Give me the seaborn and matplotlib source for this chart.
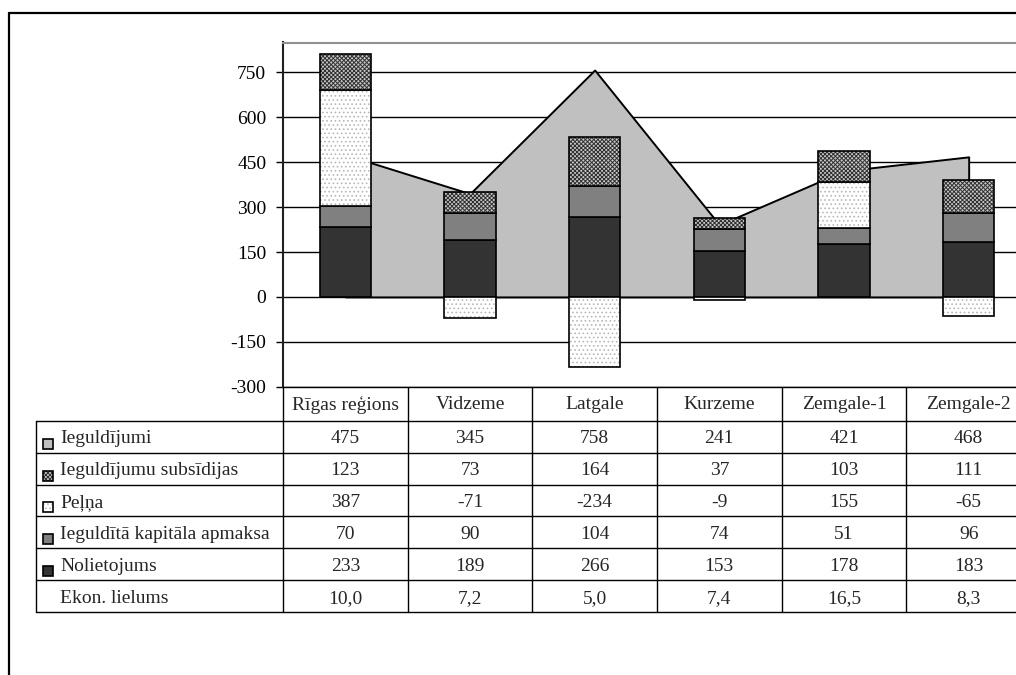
import matplotlib
matplotlib.use('Agg')
import numpy as np
import matplotlib.pyplot as plt
import matplotlib.transforms as mtransforms
from matplotlib.patches import Rectangle
from matplotlib.lines import Line2D
import seaborn as sns

regions = ['Rīgas reģions', 'Vidzeme', 'Latgale', 'Kurzeme', 'Zemgale-1', 'Zemgale-2']
ieguldijumi = [475, 345, 758, 241, 421, 468]
subsidijas = [123, 73, 164, 37, 103, 111]
pelna = [387, -71, -234, -9, 155, -65]
kapitals = [70, 90, 104, 74, 51, 96]
nolietojums = [233, 189, 266, 153, 178, 183]
ekon_lielums = ['10,0', '7,2', '5,0', '7,4', '16,5', '8,3']
yticks = [-300, -150, 0, 150, 300, 450, 600, 750]

sns.set_style('white')
plt.rcParams['font.family'] = ['Liberation Serif', 'DejaVu Serif']
plt.rcParams['axes.unicode_minus'] = False
plt.rcParams['hatch.linewidth'] = 0.7
FS = 14
SUB_HATCH = 'xxxxxxxx'

W, H = 1016, 675
fig = plt.figure(figsize=(W / 100, H / 100), dpi=100)
ax = fig.add_axes([283 / W, 1 - 386.7 / H, 748 / W, (386.7 - 42.5) / H])

x = np.arange(len(regions))
# area behind the bars
ax.fill_between(x, ieguldijumi, 0, facecolor='#c0c0c0', edgecolor='black', lw=1.4, zorder=1)

# stacking: positives on top of each other, negative profit below zero
nol = np.array(nolietojums)
kap = np.array(kapitals)
pel = np.array(pelna)
pel_bottom = np.where(pel >= 0, nol + kap, 0)
sub_bottom = nol + kap + np.clip(pel, 0, None)

BW = 0.41
common = dict(ax=ax, width=BW, saturation=1, errorbar=None, zorder=3)

sns.barplot(x=regions, y=nolietojums, color='#333333', edgecolor='black', linewidth=1.2, **common)
sns.barplot(x=regions, y=kapitals, bottom=nol, color='#808080', edgecolor='black', linewidth=1.2, **common)
# profit: white with light dots
sns.barplot(x=regions, y=pelna, bottom=pel_bottom, color='white', edgecolor='#b8b8b8',
            linewidth=0, hatch='....', **common)
sns.barplot(x=regions, y=pelna, bottom=pel_bottom, color='black', fill=False, linewidth=1.2, **common)
# subsidies: checker pattern
sns.barplot(x=regions, y=subsidijas, bottom=sub_bottom, color='#c8c8c8', edgecolor='#303030',
            linewidth=0, hatch=SUB_HATCH, **common)
sns.barplot(x=regions, y=subsidijas, bottom=sub_bottom, color='black', fill=False, linewidth=1.2, **common)

ax.set_xlim(-0.5, len(regions) - 0.5)
ax.set_ylim(-300, 850)
ax.set_yticks(yticks)
ax.set_xticks([])
ax.set_xlabel('')
ax.set_ylabel('')
ax.yaxis.grid(True, color='black', lw=1)
ax.xaxis.grid(False)
ax.set_axisbelow(True)
ax.tick_params(axis='y', direction='out', length=5, width=1, pad=7, labelsize=FS,
               left=True, color='black', labelcolor='black')
ax.spines['left'].set_color('#202020')
ax.spines['left'].set_linewidth(1.5)
ax.spines['top'].set_color('#909090')
ax.spines['top'].set_linewidth(1.5)
ax.spines['bottom'].set_color('black')
ax.spines['bottom'].set_linewidth(1)
ax.spines['right'].set_visible(False)

# data table under the chart
tab = fig.add_axes([0, 0, 1, 1], zorder=-1)
tab.set_xlim(0, W)
tab.set_ylim(H, 0)
tab.axis('off')
col = mtransforms.blended_transform_factory(ax.transData, tab.transData)

head_top, head_bot, row_h = 386.7, 420.7, 31.9
rows = [('Ieguldījumi', ieguldijumi), ('Ieguldījumu subsīdijas', subsidijas), ('Peļņa', pelna),
        ('Ieguldītā kapitāla apmaksa', kapitals), ('Nolietojums', nolietojums),
        ('Ekon. lielums', ekon_lielums)]
tab_bot = head_bot + row_h * len(rows)
lab_left = 36

for k in range(len(rows) + 1):
    tab.plot([lab_left, W + 20], [head_bot + k * row_h] * 2, color='black', lw=1)
tab.plot([lab_left, lab_left], [head_bot, tab_bot], color='black', lw=1)
for i in range(len(regions) + 1):
    tab.add_line(Line2D([i - 0.5, i - 0.5], [head_top, tab_bot], color='black', lw=1, transform=col))

for i, r in enumerate(regions):
    tab.text(i, (head_top + head_bot) / 2 + 1, r, transform=col, ha='center', va='center', fontsize=FS)

keys = [dict(fc='#c0c0c0'), dict(fc='#c8c8c8', hatch=SUB_HATCH, hc='#303030'),
        dict(fc='white', hatch='....', hc='#b8b8b8'), dict(fc='#808080'), dict(fc='#333333'), None]
for k, (name, vals) in enumerate(rows):
    mid = head_bot + (k + 0.5) * row_h
    tab.text(60, mid + 2, name, ha='left', va='center', fontsize=FS)
    for i, v in enumerate(vals):
        tab.text(i, mid + 2, str(v), transform=col, ha='center', va='center', fontsize=FS)
    key = keys[k]
    if key is not None:
        if 'hatch' in key:
            tab.add_patch(Rectangle((43, mid + 2), 10, 10, facecolor=key['fc'], edgecolor=key['hc'],
                                    lw=0, hatch=key['hatch']))
            tab.add_patch(Rectangle((43, mid + 2), 10, 10, facecolor='none', edgecolor='black', lw=1.2))
        else:
            tab.add_patch(Rectangle((43, mid + 2), 10, 10, facecolor=key['fc'], edgecolor='black', lw=1.2))

# outer frame (top and left edges)
fig.add_artist(Line2D([9 / W, 9 / W], [0, 1 - 13 / H], color='black', lw=1.6, transform=fig.transFigure))
fig.add_artist(Line2D([9 / W, 1], [1 - 13 / H, 1 - 13 / H], color='black', lw=1.6, transform=fig.transFigure))

fig.savefig('out.png', dpi=100)
